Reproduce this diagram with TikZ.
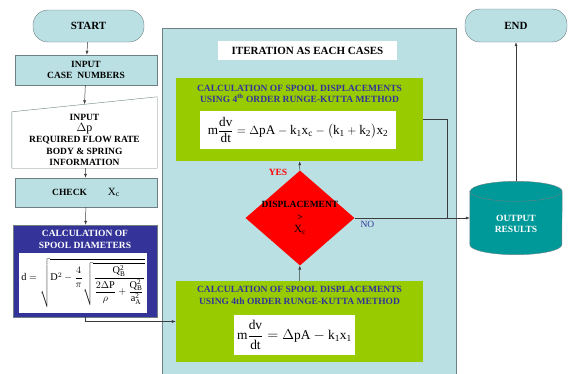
\documentclass[tikz,border=0pt]{standalone}
\usepackage{amsmath}
\usepackage{fontspec}
\setmainfont{Liberation Serif}
\usetikzlibrary{arrows.meta,shapes.geometric}
\definecolor{paleblue}{RGB}{187,224,227}
\definecolor{rim}{RGB}{110,128,132}
\definecolor{navy}{RGB}{51,51,153}
\definecolor{leaf}{RGB}{153,204,0}
\definecolor{tealcyl}{RGB}{0,153,153}
\definecolor{wire}{RGB}{60,60,60}
\newcommand{\boxfont}{\fontsize{9.5}{11.5}\selectfont\bfseries}
\tikzset{
  term/.style={draw=rim, fill=paleblue, rounded corners=15pt, font=\fontsize{11}{13}\selectfont\bfseries},
  box/.style={draw=rim, fill=paleblue, minimum width=142pt, align=center, font=\boxfont},
  green/.style={fill=leaf, minimum width=247pt},
  title/.style={align=center, text=navy, font=\boxfont},
  eqbox/.style={fill=white, inner sep=0pt},
  arr/.style={draw=wire, line width=0.5pt, -{Latex[length=4pt,width=3pt]}},
  wire/.style={draw=wire, line width=0.5pt}
}
\begin{document}
\begin{tikzpicture}[x=1pt,y=-1pt]
\useasboundingbox (0,0) rectangle (574,373);
\node[draw=rim, fill=paleblue, minimum width=294pt, minimum height=360pt, anchor=north west] (area) at (162,28) {};
\node[fill=white, minimum width=179pt, minimum height=19pt, font=\fontsize{11}{13}\selectfont\bfseries] (iter) at (307.5,50.5) {ITERATION AS EACH CASES};

\node[term, minimum width=111pt, minimum height=32pt] (start) at (88.5,26) {START};
\node[box, minimum height=30pt] (cases) at (86,70) {INPUT\\CASE\ \ NUMBERS};
\node[minimum width=145pt, minimum height=56pt, inner sep=0pt] (inp) at (84.5,140) {};
\draw[draw=rim, fill=white] (inp.south west) -- (inp.south east) -- ([yshift=15pt]inp.north east) -- (inp.north west) -- cycle;
\node[align=center, font=\boxfont] (inptext) at (inp) {INPUT\\[-1pt] {\fontsize{12}{12}\selectfont$\Delta\mathrm{p}$}\\REQUIRED FLOW RATE\\BODY \& SPRING\\INFORMATION};
\node[box, minimum height=29pt] (check) at (86,192.5) {CHECK\hspace{2.2em}{\fontsize{11}{11}\selectfont$\mathrm{X_c}$}};

\node[draw=rim, fill=navy, minimum width=144pt, minimum height=92pt] (diam) at (85,271) {};
\node[align=center, text=white, font=\boxfont] (diamtitle) at (85,239.5) {CALCULATION OF\\SPOOL DIAMETERS};
\node[eqbox, minimum width=128pt, minimum height=60pt] (diameq) at (83,283) {\fontsize{10.3}{12}\selectfont
  $\displaystyle\mathrm{d}=\sqrt{\mathrm{D}^2-\frac{4}{\pi}\sqrt{\frac{\mathrm{Q_B^2}}{\dfrac{2\Delta\mathrm{P}}{\rho}+\dfrac{\mathrm{Q_B^2}}{\mathrm{a_A^2}}}}}$};

\node[green, minimum height=83pt] (upper) at (299.5,119.5) {};
\node[title] (uptitle) at (299.5,93.7) {CALCULATION OF SPOOL DISPLACEMENTS\\USING 4\textsuperscript{th} ORDER RUNGE-KUTTA METHOD};
\node[eqbox, minimum width=196pt, minimum height=38pt] (upeq) at (298,130) {\fontsize{13.2}{15}\selectfont
  $\displaystyle\mathrm{m}\frac{\mathrm{dv}}{\mathrm{dt}}=\Delta\mathrm{pA}-\mathrm{k_1x_c}-\bigl(\mathrm{k_1}+\mathrm{k_2}\bigr)\mathrm{x_2}$};

\node[diamond, fill=red, inner sep=0pt, minimum width=109pt, minimum height=95pt] (dia) at (300,218) {};
\node[align=center, font=\boxfont] (diatext) at (dia) {DISPLACEMENT\\[1pt]>\\[1pt]{\fontsize{11}{11}\selectfont$\mathrm{X_c}$}};
\node[text=red, font=\boxfont] (yes) at (278,172) {YES};

\node[green, minimum height=81pt] (lower) at (299.5,321.5) {};
\node[title] (lowtitle) at (299.5,295.5) {CALCULATION OF SPOOL DISPLACEMENTS\\USING 4th ORDER RUNGE-KUTTA METHOD};
\node[eqbox, minimum width=121pt, minimum height=40pt] (loweq) at (294.5,335) {\fontsize{13.4}{15}\selectfont
  $\displaystyle\mathrm{m}\frac{\mathrm{dv}}{\mathrm{dt}}=\Delta\mathrm{pA}-\mathrm{k_1x_1}$};

\node[minimum width=92pt, minimum height=73pt, inner sep=0pt] (out) at (516,218) {};
\path[draw=rim, fill=tealcyl] ([yshift=-10pt]out.north west) -- ([yshift=10pt]out.south west) arc[start angle=180, end angle=360, x radius=46pt, y radius=10pt] -- ([yshift=-10pt]out.north east) arc[start angle=0, end angle=180, x radius=46pt, y radius=10pt] -- cycle;
\draw[draw=rim] ([yshift=-10pt]out.north west) arc[start angle=180, end angle=360, x radius=46pt, y radius=10pt];
\node[align=center, text=white, font=\boxfont] (outtext) at (516,224) {OUTPUT\\RESULTS};
\node[term, minimum width=102pt, minimum height=33pt] (end) at (516,25.5) {END};

\coordinate (mrg) at (447,218);
\draw[arr] (start) -- (cases);
\draw[arr] (cases) -- ([yshift=7.5pt]inp.north);
\draw[arr] (inp) -- (check);
\draw[arr] (check) -- (diam);
\draw[arr] (diam.south) |- (lower.west);
\draw[arr] (lower) -- (dia);
\draw[arr] (dia) -- (upper);
\draw[wire] (upper.east) -| (mrg);
\draw[arr] (dia.east) -- (out.west) node[pos=0.11, below, text=navy, font=\fontsize{9.5}{11}\selectfont] {NO};
\draw[arr] (out.north) -- (end);
\end{tikzpicture}
\end{document}
